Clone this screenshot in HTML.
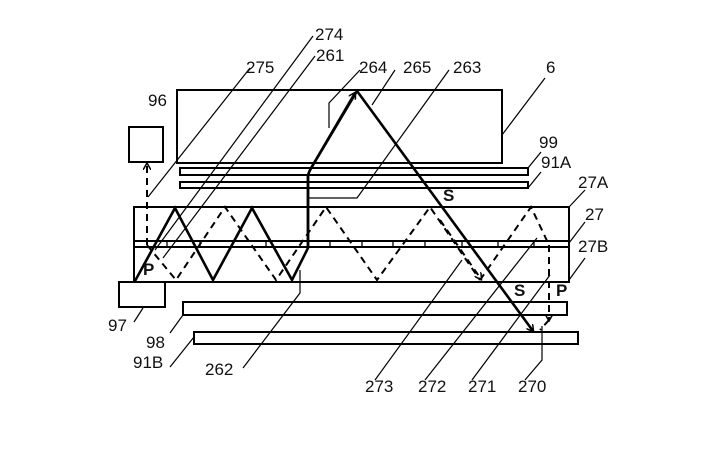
<!DOCTYPE html>
<html><head><style>body{margin:0;background:#fff}svg{display:block}text{font-family:"Liberation Sans",sans-serif;font-size:17px;fill:#111}</style></head><body>
<svg width="724" height="450" viewBox="0 0 724 450">
<defs><marker id="a" markerWidth="8" markerHeight="8" refX="6" refY="4" orient="auto" markerUnits="userSpaceOnUse"><path d="M0,0 L7,4 L0,8" fill="none" stroke="#000" stroke-width="1.5"/></marker></defs>
<g fill="none" stroke="#000" stroke-width="2">
<rect x="177" y="90" width="325" height="73"/>
<rect x="129" y="127" width="34" height="35"/>
<rect x="180" y="168" width="348" height="7"/>
<rect x="180" y="182" width="348" height="6"/>
<rect x="134" y="207" width="435" height="75"/>
<line x1="134" y1="241" x2="569" y2="241"/>
<line x1="134" y1="247" x2="569" y2="247"/>
<rect x="119" y="282" width="46" height="25"/>
<rect x="183" y="302" width="384" height="13"/>
<rect x="194" y="332" width="384" height="12"/>
</g>
<g stroke="#000" stroke-width="1.3">
<line x1="167" y1="241" x2="167" y2="247"/><line x1="200" y1="241" x2="200" y2="247"/><line x1="266" y1="241" x2="266" y2="247"/><line x1="330" y1="241" x2="330" y2="247"/><line x1="362" y1="241" x2="362" y2="247"/><line x1="393" y1="241" x2="393" y2="247"/><line x1="425" y1="241" x2="425" y2="247"/><line x1="462" y1="241" x2="462" y2="247"/><line x1="498" y1="241" x2="498" y2="247"/><line x1="534" y1="241" x2="534" y2="247"/>
</g>
<g fill="none" stroke="#000" stroke-width="2.6">
<polyline points="135,281 175,208 213,280 252,208 292,280 308,248 308,175 310,170 357,91"/>
<line x1="308" y1="175" x2="308" y2="248"/>
<polyline points="357,91 533,331" marker-end="url(#a)"/>
<line x1="310" y1="170" x2="355" y2="93" marker-end="url(#a)"/>
</g>
<g fill="none" stroke="#000" stroke-width="2" stroke-dasharray="7,5">
<line x1="147" y1="245" x2="147" y2="164" marker-end="url(#a)"/>
<polyline points="147,245 176,280 225,207 276,280 326,207 377,280 430,207 480,280"/>
<line x1="440" y1="220" x2="481" y2="279" marker-end="url(#a)"/>
<polyline points="480,280 531,207 549,245"/>
<line x1="549" y1="245" x2="549" y2="320" marker-end="url(#a)"/>
<line x1="549" y1="320" x2="540" y2="330"/>
</g>
<g fill="none" stroke="#000" stroke-width="1.2">
<line x1="313" y1="36" x2="155" y2="250"/>
<line x1="315" y1="56" x2="163" y2="258"/>
<line x1="250" y1="68" x2="148" y2="197"/>
<polyline points="360,70 329,103 329,128"/>
<line x1="395" y1="70" x2="372" y2="105"/>
<polyline points="449,70 357,198 308,198"/>
<line x1="545" y1="78" x2="502" y2="135"/>
<line x1="541" y1="152" x2="528" y2="168"/>
<line x1="541" y1="172" x2="528" y2="188"/>
<line x1="585" y1="190" x2="569" y2="207"/>
<line x1="585" y1="222" x2="569" y2="243"/>
<line x1="585" y1="258" x2="569" y2="280"/>
<line x1="134" y1="322" x2="143" y2="308"/>
<line x1="170" y1="333" x2="183" y2="315"/>
<line x1="170" y1="367" x2="194" y2="337"/>
<polyline points="243,368 300,293 300,270"/>
<line x1="375" y1="380" x2="462" y2="260"/>
<line x1="425" y1="380" x2="537" y2="238"/>
<line x1="472" y1="380" x2="550" y2="275"/>
<polyline points="525,380 542,360 542,326"/>
</g>
<text x="315" y="40">274</text><text x="316" y="61">261</text><text x="246" y="73">275</text>
<text x="359" y="73">264</text><text x="403" y="73">265</text><text x="453" y="73">263</text><text x="546" y="73">6</text>
<text x="148" y="106">96</text><text x="539" y="148">99</text><text x="541" y="168">91A</text>
<text x="578" y="188">27A</text><text x="585" y="220">27</text><text x="578" y="252">27B</text>
<text x="108" y="331">97</text><text x="146" y="348">98</text><text x="133" y="368">91B</text>
<text x="205" y="375">262</text><text x="365" y="392">273</text><text x="418" y="392">272</text><text x="468" y="392">271</text><text x="518" y="392">270</text>
<g style="font-size:11px;font-weight:bold"><text x="443" y="201">S</text><text x="143" y="275">P</text><text x="514" y="296">S</text><text x="556" y="296">P</text></g>
</svg>
</body></html>
